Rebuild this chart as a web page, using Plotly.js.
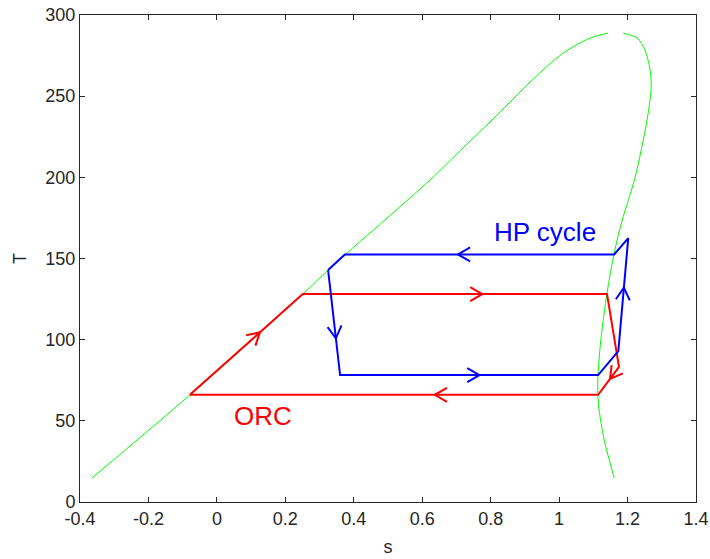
<!DOCTYPE html>
<html>
<head>
<meta charset="utf-8">
<script src="https://cdn.plot.ly/plotly-3.0.1.min.js"></script>
<style>html,body{margin:0;padding:0;background:#fff;}#chart{width:710px;height:559px;}</style>
</head>
<body>
<div id="chart"></div>
<script>
// Saturation dome
var satLiqS = [-0.365, -0.079, 0.251, 0.325, 0.374, 0.623, 0.719, 0.819, 0.915, 1.012, 1.091, 1.143];
var satLiqT = [14.8, 65.9, 128.1, 142.9, 152.2, 198.4, 218.1, 238.4, 258.7, 276.6, 285.8, 288.9];
var satVapS = [1.187, 1.228, 1.251, 1.266, 1.269, 1.257, 1.222, 1.184, 1.161, 1.140, 1.122, 1.113, 1.115, 1.132, 1.161];
var satVapT = [288.9, 285.8, 278.4, 266, 255.7, 235.3, 200, 173.3, 153.4, 128.7, 100, 75, 60, 38, 14.8];
// ORC cycle
var orcS = [-0.079, 0.251, 1.140, 1.175, 1.114, -0.079];
var orcT = [66.0, 128.1, 128.1, 83.2, 66.0, 66.0];
var orcArrowSeg = [0, 1, 3, 4];
var orcArrowFrac = [0.62, 0.59, 0.43, 0.40];
// Heat pump cycle
var hpS = [0.325, 0.360, 1.114, 1.173, 1.202, 1.161, 0.374, 0.325];
var hpT = [142.9, 78.2, 78.2, 93.0, 162.6, 152.5, 152.5, 142.9];
var hpArrowSeg = [0, 1, 3, 5];
var hpArrowFrac = [0.65, 0.54, 0.56, 0.58];
// Labels
var xTicks = [-0.4, -0.2, 0, 0.2, 0.4, 0.6, 0.8, 1, 1.2, 1.4];
var yTicks = [0, 50, 100, 150, 200, 250, 300];

var W = 710, H = 559;
var M = {l: 80, r: 14, t: 15, b: 57};
var xr = [-0.4, 1.4], yr = [0, 300];
var kx = (W - M.l - M.r) / (xr[1] - xr[0]);
var ky = (H - M.t - M.b) / (yr[1] - yr[0]);

function chevrons(xs, ys, segs, fracs) {
  var ox = [], oy = [];
  var L = 14, th = 30 * Math.PI / 180;
  for (var i = 0; i < segs.length; i++) {
    var k = segs[i], f = fracs[i];
    var x0 = xs[k], y0 = ys[k], x1 = xs[k + 1], y1 = ys[k + 1];
    var px = x0 + f * (x1 - x0), py = y0 + f * (y1 - y0);
    var dx = (x1 - x0) * kx, dy = (y1 - y0) * ky;
    var n = Math.sqrt(dx * dx + dy * dy); dx /= n; dy /= n;
    [th, -th].forEach(function (a, j) {
      var rx = dx * Math.cos(a) - dy * Math.sin(a);
      var ry = dx * Math.sin(a) + dy * Math.cos(a);
      var ax = px - L * rx / kx, ay = py - L * ry / ky;
      if (j === 0) { ox.push(ax, px); oy.push(ay, py); }
      else { ox.push(ax, null); oy.push(ay, null); }
    });
  }
  return {x: ox, y: oy};
}

var orcA = chevrons(orcS, orcT, orcArrowSeg, orcArrowFrac);
var hpA = chevrons(hpS, hpT, hpArrowSeg, hpArrowFrac);

var traces = [
  {x: satLiqS, y: satLiqT, mode: 'lines', line: {color: '#00ff00', width: 1, shape: 'spline', smoothing: 0.8}, hoverinfo: 'skip'},
  {x: satVapS, y: satVapT, mode: 'lines', line: {color: '#00ff00', width: 1, shape: 'spline', smoothing: 0.8}, hoverinfo: 'skip'},
  {x: orcS, y: orcT, mode: 'lines', line: {color: '#ff0000', width: 2}},
  {x: orcA.x, y: orcA.y, mode: 'lines', line: {color: '#ff0000', width: 2}, connectgaps: false},
  {x: hpS, y: hpT, mode: 'lines', line: {color: '#0000ff', width: 2}},
  {x: hpA.x, y: hpA.y, mode: 'lines', line: {color: '#0000ff', width: 2}, connectgaps: false}
];

var axisCommon = {
  showgrid: false, zeroline: false, showline: true, mirror: 'ticks',
  linecolor: '#262626', linewidth: 1, ticks: 'inside', ticklen: 5, tickwidth: 1, tickcolor: '#262626',
  tickfont: {family: 'Liberation Sans, Arial, sans-serif', size: 18, color: '#262626'}
};

var layout = {
  width: W, height: H, margin: M, showlegend: false,
  paper_bgcolor: '#ffffff', plot_bgcolor: '#ffffff',
  xaxis: Object.assign({}, axisCommon, {range: xr, tickvals: xTicks, ticktext: xTicks.map(String),
    title: {text: 's', standoff: 12, font: {family: 'Liberation Sans, Arial, sans-serif', size: 18, color: '#262626'}}}),
  yaxis: Object.assign({}, axisCommon, {range: yr, tickvals: yTicks, ticktext: yTicks.map(String),
    title: {text: 'T', standoff: 14, font: {family: 'Liberation Sans, Arial, sans-serif', size: 18, color: '#262626'}}}),
  annotations: [
    {x: 0.959, y: 166.5, xref: 'x', yref: 'y', text: 'HP cycle', showarrow: false,
     font: {family: 'Liberation Sans, Arial, sans-serif', size: 26, color: '#0000ff'}},
    {x: 0.136, y: 53, xref: 'x', yref: 'y', text: 'ORC', showarrow: false,
     font: {family: 'Liberation Sans, Arial, sans-serif', size: 26, color: '#ff0000'}}
  ]
};

Plotly.newPlot('chart', traces, layout, {displayModeBar: false, staticPlot: true});
</script>
</body>
</html>
